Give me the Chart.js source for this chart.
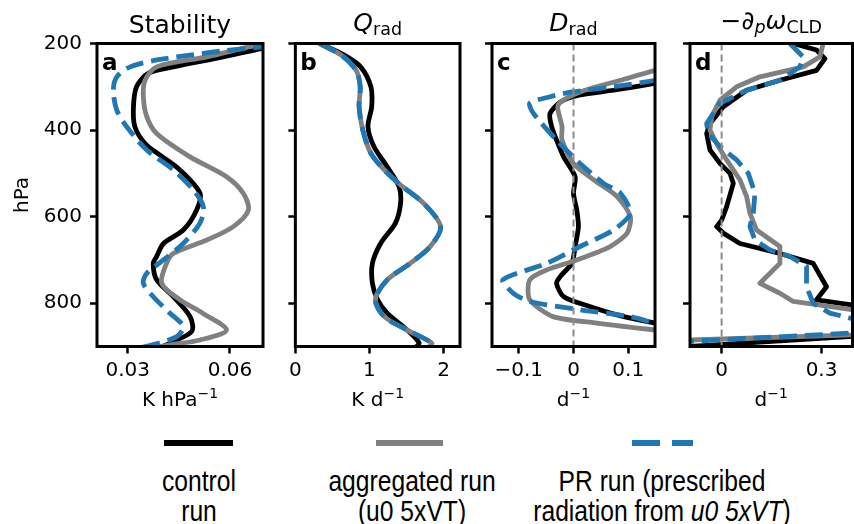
<!DOCTYPE html>
<html>
<head>
<meta charset="utf-8">
<script src="https://cdn.jsdelivr.net/npm/chart.js@4.4.1/dist/chart.umd.min.js"></script>
<style>
  html, body { margin: 0; padding: 0; background: #fff; }
  #fig { position: relative; width: 854px; height: 524px; overflow: hidden; }
  .panel { position: absolute; top: 0; height: 420px; }
  .leg-line { position: absolute; top: 440px; height: 6px; }
  .leg-text { position: absolute; top: 465.5px; font-family: "Liberation Sans"; font-size: 29px;
              line-height: 30px; text-align: center; white-space: nowrap; color: #000;
              transform: translateX(-50%) scaleX(0.85); }
</style>
</head>
<body>
<div id="fig">
  <div class="panel" style="left:0px;width:265px"><canvas id="pa"></canvas></div>
  <div class="panel" style="left:284px;width:178px"><canvas id="pb"></canvas></div>
  <div class="panel" style="left:482px;width:175px"><canvas id="pc"></canvas></div>
  <div class="panel" style="left:680px;width:174px"><canvas id="pd"></canvas></div>

  <div class="leg-line" style="left:164px;width:69px;background:#000"></div>
  <div class="leg-line" style="left:376px;width:67px;background:#808080"></div>
  <div class="leg-line" style="left:632px;width:28px;background:#1f77b4"></div>
  <div class="leg-line" style="left:672px;width:21px;background:#1f77b4"></div>
  <div class="leg-text" id="leg0" style="left:199px"></div>
  <div class="leg-text" id="leg1" style="left:412px"></div>
  <div class="leg-text" id="leg2" style="left:662px"></div>
</div>

<script>
// series names (legend)
const seriesNames = ['control<br>run', 'aggregated run<br>(u0 5xVT)', 'PR run (prescribed<br>radiation from <i>u0 5xVT</i>)'];

// pressure ticks (hPa)
const pressureTicks = [200, 400, 600, 800];

// a: stability [K hPa-1, hPa]
const stabControl = [[0.075,205],[0.0696,211],[0.058,231],[0.0434,254],[0.036,269],[0.0326,300],[0.0317,346],[0.0321,392],[0.0351,431],[0.0395,458],[0.0453,492],[0.0512,546],[0.0502,585],[0.0463,631],[0.0405,662],[0.0385,692],[0.0375,708],[0.0385,746],[0.0434,785],[0.0483,831],[0.0488,865],[0.0424,892],[0.039,905]];
const stabAggregated = [[0.072,200],[0.0678,204],[0.0532,231],[0.0385,254],[0.0351,285],[0.0346,323],[0.0356,369],[0.0385,408],[0.0483,462],[0.059,508],[0.0639,546],[0.0654,585],[0.061,623],[0.0532,654],[0.0434,685],[0.0414,708],[0.04,754],[0.0453,792],[0.052,823],[0.059,862],[0.0512,885],[0.0424,896],[0.038,902]];
const stabPR = [[0.072,203],[0.0693,208],[0.058,217],[0.0483,227],[0.0385,238],[0.0307,254],[0.0268,277],[0.0258,308],[0.0268,354],[0.0297,392],[0.0356,446],[0.0434,492],[0.0492,538],[0.0522,577],[0.0512,615],[0.0463,662],[0.0405,700],[0.0356,731],[0.0346,754],[0.0375,785],[0.0424,823],[0.0463,854],[0.0444,877],[0.0365,898],[0.034,902]];

// b: Q_rad [K d-1, hPa]
const qradControl = [[0.326,200],[0.66,227],[0.88,254],[1.02,300],[1.03,346],[0.98,392],[1.06,438],[1.24,485],[1.40,531],[1.42,569],[1.35,615],[1.15,662],[1.04,708],[1.04,754],[1.11,792],[1.24,823],[1.51,862],[1.67,892],[1.62,902]];
const qradAggregated = [[0.326,200],[0.62,227],[0.82,262],[0.875,300],[0.86,346],[0.91,400],[1.02,454],[1.20,492],[1.42,527],[1.73,569],[1.96,623],[1.82,669],[1.55,708],[1.24,746],[1.08,792],[1.20,831],[1.51,862],[1.84,892],[1.80,902]];
const qradPR = [[0.326,200],[0.62,227],[0.82,262],[0.875,300],[0.86,346],[0.91,400],[1.02,454],[1.20,492],[1.42,527],[1.73,569],[1.96,623],[1.82,669],[1.55,708],[1.24,746],[1.08,792],[1.20,831],[1.51,862],[1.84,892],[1.80,902]];

// c: D_rad [d-1, hPa]
const dradControl = [[0.2,280],[0.15,292],[0.073,308],[0.012,319],[-0.024,335],[-0.043,362],[-0.040,392],[-0.031,423],[-0.018,462],[0.003,508],[0,546],[0.006,585],[0.009,623],[0.003,669],[-0.003,708],[-0.024,738],[-0.031,754],[-0.018,785],[0.031,808],[0.092,831],[0.15,846],[0.2,856]];
const dradAggregated = [[0.2,250],[0.15,262],[0.086,285],[0.012,312],[-0.028,342],[-0.021,392],[-0.021,423],[0,477],[0.037,515],[0.08,554],[0.104,600],[0.098,638],[0.067,669],[0.006,700],[-0.049,723],[-0.08,746],[-0.08,792],[-0.037,831],[0.043,846],[0.15,862],[0.2,868]];
const dradPR = [[0.2,276],[0.15,285],[0.073,300],[-0.003,312],[-0.043,323],[-0.08,338],[-0.073,362],[-0.031,423],[0.012,477],[0.055,523],[0.086,546],[0.104,592],[0.073,631],[0.012,669],[-0.049,708],[-0.129,746],[-0.11,777],[-0.08,796],[0.012,815],[0.104,831],[0.15,846],[0.2,855]];

// d: -dp omega_CLD [d-1, hPa]
const omegaControl = [[0.215,200],[0.285,215],[0.31,235],[0.285,262],[0.175,285],[0.075,308],[0.005,346],[-0.035,385],[-0.045,408],[-0.035,446],[-0.005,477],[0.025,500],[0.035,523],[0.015,577],[0,608],[-0.015,623],[0.005,638],[0.055,662],[0.175,685],[0.275,708],[0.315,762],[0.285,792],[0.39,804],[1.0,848],[-0.5,919]];
const omegaAggregated = [[0.305,200],[0.295,231],[0.245,254],[0.115,277],[0.045,300],[-0.005,331],[-0.03,369],[-0.035,400],[-0.015,431],[0.015,469],[0.055,515],[0.075,554],[0.085,592],[0.105,631],[0.175,669],[0.175,708],[0.115,754],[0.175,777],[0.215,796],[0.275,802],[0.39,815],[1.0,858],[-0.5,895]];
const omegaPR = [[0.205,200],[0.245,231],[0.235,254],[0.175,285],[0.075,308],[-0.005,338],[-0.045,385],[-0.04,408],[-0.005,438],[0.045,469],[0.08,500],[0.1,546],[0.095,592],[0.085,623],[0.1,654],[0.145,677],[0.205,692],[0.255,715],[0.255,762],[0.275,800],[0.325,823],[0.39,835],[1.0,845],[-0.5,904]];

// x ticks per panel
const stabTicks = [0.03, 0.06], stabTickLabels = ['0.03', '0.06'];
const qradTicks = [0, 1, 2], qradTickLabels = ['0', '1', '2'];
const dradTicks = [-0.1, 0, 0.1], dradTickLabels = ['\u22120.1', '0', '0.1'];
const omegaTicks = [0, 0.3], omegaTickLabels = ['0', '0.3'];

Chart.defaults.font.family = '"DejaVu Sans"';
Chart.defaults.color = '#000';

seriesNames.forEach((n, i) => { document.getElementById('leg' + i).innerHTML = n; });

// draws a run of text pieces (for sub/superscripts) centred on cx
function drawPieces(ctx, pieces, cx, base) {
  let w = 0;
  pieces.forEach(s => { ctx.font = s.f; w += ctx.measureText(s.t).width; });
  let x = cx - w / 2;
  pieces.forEach(s => {
    ctx.font = s.f;
    ctx.fillText(s.t, x, base + (s.dy || 0));
    x += ctx.measureText(s.t).width;
  });
}

const decor = {
  id: 'decor',
  afterDatasetsDraw(chart, args, opts) {
    const ctx = chart.ctx, a = chart.chartArea;
    ctx.save();
    if (opts.zero) {
      const x0 = chart.scales.x.getPixelForValue(0);
      ctx.strokeStyle = '#8c8c8c';
      ctx.lineWidth = 2;
      ctx.setLineDash([7, 4]);
      ctx.beginPath();
      ctx.moveTo(x0, a.top);
      ctx.lineTo(x0, a.bottom);
      ctx.stroke();
      ctx.setLineDash([]);
    }
    ctx.strokeStyle = '#000';
    ctx.lineWidth = 3;
    ctx.strokeRect(a.left, a.top, a.right - a.left, a.bottom - a.top);

    ctx.fillStyle = '#000';
    ctx.textBaseline = 'alphabetic';
    ctx.textAlign = 'left';
    ctx.font = 'bold 23px "DejaVu Sans"';
    ctx.fillText(opts.letter, a.left + 5, a.top + 26.5);

    const cx = (a.left + a.right) / 2;
    drawPieces(ctx, opts.title, cx, opts.base);
    drawPieces(ctx, opts.xtitle, cx, a.bottom + 59.5);
    ctx.restore();
  }
};

function line(arr, color, order, tension, dash) {
  return {
    data: arr.map(([v, p]) => ({ x: v, y: p })),
    showLine: true,
    borderColor: color,
    borderWidth: 4.8,
    borderDash: dash || [],
    borderJoinStyle: 'round',
    pointRadius: 0,
    tension: tension,
    order: order,
    clip: 0
  };
}

function makePanel(id, cfg) {
  const grid = { display: true, drawOnChartArea: false, drawTicks: true, tickLength: 7, tickWidth: 2.5, color: '#000' };
  new Chart(document.getElementById(id), {
    type: 'scatter',
    data: {
      datasets: [
        line(cfg.series[0], '#000000', 3, cfg.tension),
        line(cfg.series[1], '#808080', 2, cfg.tension),
        line(cfg.series[2], '#1f77b4', 1, cfg.tension, [18, 7.8])
      ]
    },
    options: {
      responsive: true,
      maintainAspectRatio: false,
      animation: false,
      events: [],
      layout: { padding: { top: 43.5, right: cfg.padR, left: 0, bottom: 0 } },
      elements: { line: { capBezierPoints: false } },
      scales: {
        x: {
          type: 'linear', position: 'bottom', min: cfg.xmin, max: cfg.xmax,
          afterBuildTicks: s => { s.ticks = cfg.xticks.map(v => ({ value: v })); },
          afterFit: s => { s.height = 73.5; },
          grid: grid,
          border: { display: false },
          ticks: { autoSkip: false, maxRotation: 0, padding: 5, font: { size: 20 },
                   callback: (v, i) => cfg.xlabels[i] }
        },
        y: {
          type: 'linear', position: 'left', reverse: true, min: 200, max: 900,
          afterBuildTicks: s => { s.ticks = pressureTicks.map(v => ({ value: v })); },
          afterFit: s => { s.width = cfg.yw; },
          grid: grid,
          border: { display: false },
          ticks: { autoSkip: false, padding: 8, font: { size: 20 },
                   callback: v => cfg.showY ? String(v) : '' },
          title: { display: cfg.showY, text: 'hPa', font: { size: 20 }, padding: { top: 11, bottom: 0 } }
        }
      },
      plugins: {
        legend: { display: false },
        tooltip: { enabled: false },
        decor: { letter: cfg.letter, title: cfg.title, base: cfg.base, zero: cfg.zero, xtitle: cfg.xtitle }
      }
    },
    plugins: [decor]
  });
}

const big = '25px "DejaVu Sans"', bigIt = 'italic 25px "DejaVu Sans"';
const sub = '17.5px "DejaVu Sans"', subIt = 'italic 17.5px "DejaVu Sans"';
const lab = '20px "DejaVu Sans"', sup = '14px "DejaVu Sans"';
const perUnit = { t: '\u22121', f: sup, dy: -8 };

makePanel('pa', {
  series: [stabControl, stabAggregated, stabPR], tension: 0.3,
  xmin: 0.021, xmax: 0.0697, xticks: stabTicks, xlabels: stabTickLabels,
  xtitle: [{ t: 'K hPa', f: lab }, perUnit], yw: 97, padR: 2, showY: true, letter: 'a', zero: false,
  base: 33, title: [{ t: 'Stability', f: big }]
});
makePanel('pb', {
  series: [qradControl, qradAggregated, qradPR], tension: 0.3,
  xmin: 0, xmax: 2.222, xticks: qradTicks, xlabels: qradTickLabels,
  xtitle: [{ t: 'K d', f: lab }, perUnit], yw: 10, padR: 2, showY: false, letter: 'b', zero: false,
  base: 31, title: [{ t: 'Q', f: bigIt }, { t: 'rad', f: sub, dy: 4 }]
});
makePanel('pc', {
  series: [dradControl, dradAggregated, dradPR], tension: 0.25,
  xmin: -0.149, xmax: 0.149, xticks: dradTicks, xlabels: dradTickLabels,
  xtitle: [{ t: 'd', f: lab }, perUnit], yw: 10, padR: 2, showY: false, letter: 'c', zero: true,
  base: 31, title: [{ t: 'D', f: bigIt }, { t: 'rad', f: sub, dy: 4 }]
});
makePanel('pd', {
  series: [omegaControl, omegaAggregated, omegaPR], tension: 0,
  xmin: -0.095, xmax: 0.393, xticks: omegaTicks, xlabels: omegaTickLabels,
  xtitle: [{ t: 'd', f: lab }, perUnit], yw: 10, padR: 1.5, showY: false, letter: 'd', zero: true,
  base: 29, title: [{ t: '\u2212\u2202', f: big }, { t: 'p', f: subIt, dy: 4 }, { t: '\u03C9', f: bigIt }, { t: 'CLD', f: sub, dy: 4 }]
});
</script>
</body>
</html>
